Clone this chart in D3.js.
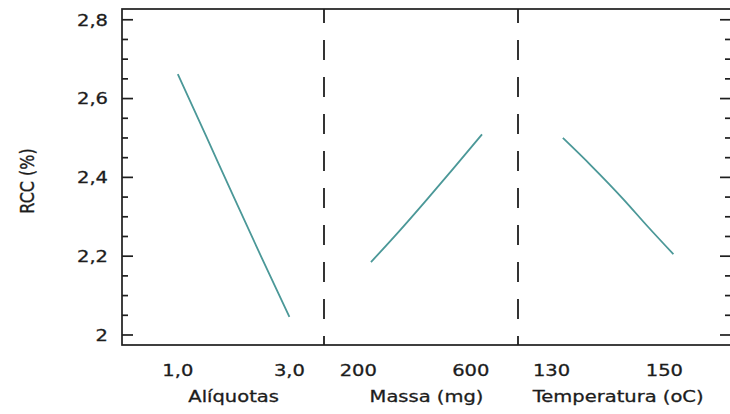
<!DOCTYPE html>
<html>
<head>
<meta charset="utf-8">
<script src="https://cdn.jsdelivr.net/npm/d3@7"></script>
<style>
  html, body { margin: 0; padding: 0; background: #fff; }
  svg { display: block; }
  text { font-family: "DejaVu Sans", Verdana, sans-serif; fill: #1c1c1c; stroke: #1c1c1c; stroke-width: 0.3px; }
</style>
</head>
<body>
<svg id="chart" width="730" height="414"></svg>
<script>
// Main effects for RCC (%)
const factors = ["Alíquotas", "Massa (mg)", "Temperatura (oC)"];
const xTickValues = [[1.0, 3.0], [200, 600], [130, 150]];
const xTickLabels = [["1,0", "3,0"], ["200", "600"], ["130", "150"]];
const xDomains = [[0, 3.62], [78, 768], [124.05, 161.8]];

// factor levels and fitted RCC response for each factor
const levels = [
  [1.0, 1.5, 2.0, 2.5, 3.0],
  [245, 345, 443, 540, 640],
  [132, 137, 142.7, 147, 151.6]
];
const rcc = [
  [2.662, 2.507, 2.351, 2.197, 2.046],
  [2.185, 2.263, 2.343, 2.424, 2.509],
  [2.500, 2.430, 2.345, 2.276, 2.205]
];

const yTickValues = [2.0, 2.2, 2.4, 2.6, 2.8];
const yTickLabels = ["2", "2,2", "2,4", "2,6", "2,8"];
const yMinorValues = d3.range(2.0, 2.801, 0.05);
const yDomain = [1.9746, 2.8273];

const svg = d3.select("#chart");
const plot = { left: 122, right: 731, top: 9, bottom: 345 };
const dividers = [plot.left, 324, 518, plot.right];
const stretch = 1.22;
const fontSize = 16;

const y = d3.scaleLinear().domain(yDomain).range([plot.bottom, plot.top]);

const xScales = factors.map((f, i) =>
  d3.scaleLinear().domain(xDomains[i]).range([dividers[i], dividers[i + 1]])
);

// frame
svg.append("rect")
  .attr("x", plot.left).attr("y", plot.top)
  .attr("width", plot.right - plot.left).attr("height", plot.bottom - plot.top)
  .attr("fill", "none").attr("stroke", "#1e1e1e").attr("stroke-width", 1.7);

// left and right ticks (inward)
const tickG = svg.append("g").attr("stroke", "#1e1e1e").attr("stroke-width", 1.7);
yMinorValues.forEach(v => {
  const isMajor = yTickValues.some(t => Math.abs(t - v) < 1e-6);
  const len = isMajor ? 11 : 6;
  tickG.append("line")
    .attr("x1", plot.left).attr("x2", plot.left + len)
    .attr("y1", y(v)).attr("y2", y(v));
  tickG.append("line")
    .attr("x1", plot.right).attr("x2", plot.right - len)
    .attr("y1", y(v)).attr("y2", y(v));
});

// y tick labels
yTickValues.forEach((v, i) => {
  svg.append("g")
    .attr("transform", `translate(108,${y(v)}) scale(${stretch},1)`)
    .append("text")
    .attr("text-anchor", "end")
    .attr("dy", "0.36em")
    .attr("font-size", fontSize)
    .text(yTickLabels[i]);
});

// y axis title
svg.append("g")
  .attr("transform", `translate(34,181) scale(${stretch},1) rotate(-90)`)
  .append("text")
  .attr("text-anchor", "middle")
  .attr("font-size", fontSize)
  .text("RCC (%)");

// dashed dividers between factors
[dividers[1], dividers[2]].forEach(xp => {
  svg.append("line")
    .attr("x1", xp).attr("x2", xp)
    .attr("y1", plot.top).attr("y2", plot.bottom)
    .attr("stroke", "#1e1e1e").attr("stroke-width", 1.8)
    .attr("stroke-dasharray", "20,17").attr("stroke-dashoffset", 6);
});

// effect lines, tick labels and factor titles
factors.forEach((f, i) => {
  const x = xScales[i];
  const pts = levels[i].map((lv, j) => [lv, rcc[i][j]]);
  svg.append("path")
    .datum(pts)
    .attr("fill", "none")
    .attr("stroke", "#4b9898")
    .attr("stroke-width", 1.8)
    .attr("d", d3.line().curve(d3.curveMonotoneX).x(d => x(d[0])).y(d => y(d[1])));

  xTickValues[i].forEach((tv, k) => {
    svg.append("g")
      .attr("transform", `translate(${x(tv)},376) scale(${stretch},1)`)
      .append("text")
      .attr("text-anchor", "middle")
      .attr("font-size", fontSize)
      .text(xTickLabels[i][k]);
  });

  // factor title centred under the span of its effect line
  const lv = levels[i];
  const mid = (x(lv[0]) + x(lv[lv.length - 1])) / 2;
  svg.append("g")
    .attr("transform", `translate(${mid},402) scale(${stretch},1)`)
    .append("text")
    .attr("text-anchor", "middle")
    .attr("font-size", fontSize)
    .text(f);
});
</script>
</body>
</html>
